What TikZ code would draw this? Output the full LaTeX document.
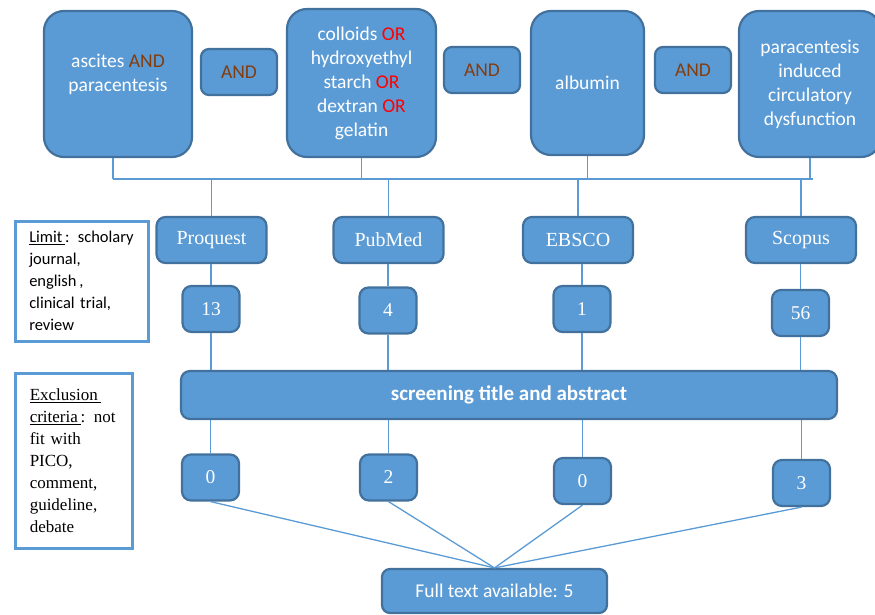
\documentclass[tikz,border=0pt]{standalone}
\usepackage{fontspec}
\setmainfont{Liberation Serif}
\newfontfamily\calibri{Carlito}
\definecolor{boxfill}{HTML}{5B9BD5}
\definecolor{boxedge}{HTML}{41719C}
\definecolor{andbrown}{HTML}{843C0C}
\definecolor{orred}{HTML}{FF0000}
\tikzset{
  blockbox/.style={draw=boxedge, fill=boxfill, line width=2.2pt, text=white, align=center, inner sep=0pt},
  termbox/.style={blockbox, rounded corners=20pt, font=\calibri\fontsize{19.5}{24}\selectfont},
  termtext/.style={text=white, align=center, inner sep=0pt, font=\calibri\fontsize{19.5}{24}\selectfont},
  andbox/.style={blockbox, rounded corners=8pt, minimum width=76pt, minimum height=46pt, text=andbrown, font=\calibri\fontsize{19.5}{24}\selectfont},
  dbbox/.style={blockbox, rounded corners=9pt, minimum width=110pt, minimum height=46pt, font=\fontsize{20}{22}\selectfont},
  countbox/.style={blockbox, rounded corners=9pt, minimum width=57pt, minimum height=46pt, font=\fontsize{19.5}{22}\selectfont},
  notebox/.style={draw=boxfill, line width=2.5pt, fill=white, align=left, anchor=north west, inner xsep=14pt, inner ysep=0pt},
  link/.style={draw=boxfill, line width=1.3pt},
}
\begin{document}
\begin{tikzpicture}[x=1pt, y=-1pt]
	\useasboundingbox (0,0) rectangle (875,615);
	% search terms
	\node[termbox, minimum width=148pt, minimum height=146pt] (ascites) at (118,84) {};
	\node[termtext] (ascitestext) at (118,74) {ascites \textcolor{andbrown}{AND}\\paracentesis};
	\node[andbox] (and1) at (239,72) {AND};
	\node[termbox, minimum width=149pt, minimum height=148pt] (colloids) at (361.5,83) {colloids \textcolor{orred}{OR}\\hydroxyethyl\\starch \textcolor{orred}{OR}\\dextran \textcolor{orred}{OR}\\gelatin};
	\node[andbox] (and2) at (482,70) {AND};
	\node[termbox, minimum width=113pt, minimum height=144pt] (albumin) at (587.5,83) {albumin};
	\node[andbox] (and3) at (693,70) {AND};
	\node[termbox, minimum width=142pt, minimum height=146pt] (pcd) at (810,84) {paracentesis\\induced\\circulatory\\dysfunction};
	% databases
	\node[dbbox] (proquest) at (211.5,240) {Proquest};
	\node[dbbox] (pubmed) at (388.5,240) {PubMed};
	\node[dbbox] (ebsco) at (578,240) {EBSCO};
	\node[dbbox] (scopus) at (801,240) {Scopus};
	\node[countbox] (pqhits) at (211,309) {13};
	\node[countbox] (pmhits) at (388,310.5) {4};
	\node[countbox] (ebhits) at (582,309) {1};
	\node[countbox] (schits) at (800.5,313) {56};
	\node[blockbox, rounded corners=9pt, minimum width=656pt, minimum height=48pt, font=\calibri\bfseries\fontsize{21}{24}\selectfont] (screen) at (509,395) {screening title and abstract};
	\node[countbox] (pqkept) at (210.5,477.5) {0};
	\node[countbox] (pmkept) at (388.5,477.5) {2};
	\node[countbox] (ebkept) at (582.5,481) {0};
	\node[countbox] (sckept) at (801.5,483) {3};
	\node[blockbox, rounded corners=8pt, minimum width=225pt, minimum height=44pt, font=\calibri\fontsize{19.5}{22}\selectfont] (full) at (494.5,591) {Full text available: 5};
	% side notes
	\node[notebox, minimum width=133pt, minimum height=120pt, text width=105pt, font=\calibri\fontsize{16.5}{22}\selectfont] (limit) at (14,220) {\underline{Limit\,}: scholary\\journal,\\english\,,\\clinical trial,\\review};
	\node[notebox, minimum width=117pt, minimum height=175pt, text width=88pt, font=\fontsize{17}{22}\selectfont] (exclusion) at (14,372) {\underline{Exclusion\,}\\\underline{criteria\,}: not\\fit with\\PICO,\\comment,\\guideline,\\debate};
	% connectors
	\coordinate (busL) at (113,179);
	\coordinate (busR) at (813,179);
	\draw[link] (busL) -- (busR);
	\draw[link] ([xshift=-5pt]ascites.south) -- (busL);
	\foreach \n in {colloids,albumin,pcd}
		\draw[link] (\n.south) -- (\n.south |- busL);
	\foreach \n in {proquest,pubmed,ebsco,scopus}
		\draw[link] (\n.north |- busL) -- (\n.north);
	\draw[link] (pqhits.north |- proquest.south) -- (pqhits.north);
	\draw[link] (pmhits.north |- pubmed.south) -- (pmhits.north);
	\draw[link] (ebhits.north |- ebsco.south) -- (ebhits.north);
	\draw[link] (schits.north |- scopus.south) -- (schits.north);
	\foreach \n in {pqhits,pmhits,ebhits,schits}
		\draw[link] (\n.south) -- (\n.south |- screen.north);
	\foreach \n in {pqkept,pmkept,ebkept,sckept} {
		\draw[link] (\n.north |- screen.south) -- (\n.north);
		\draw[link] (\n.south) -- (full.north);
	}
\end{tikzpicture}
\end{document}
